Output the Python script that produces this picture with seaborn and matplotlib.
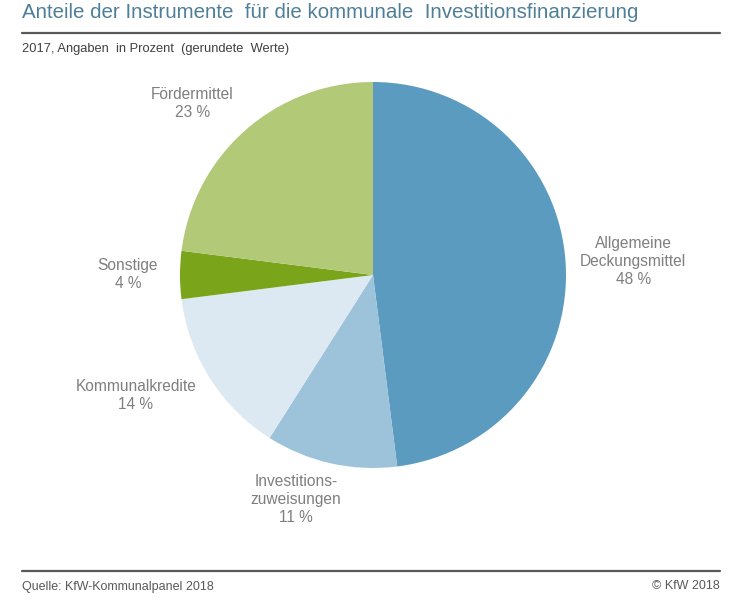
import numpy as np
import seaborn as sns
import matplotlib.pyplot as plt

# Daten
kategorien = ['Allgemeine\nDeckungsmittel', 'Investitions-\nzuweisungen', 'Kommunalkredite', 'Sonstige', 'Fördermittel']
anteile = [48, 11, 14, 4, 23]
farben = ['#5b9bc0', '#9dc3da', '#dde9f2', '#7aa51b', '#b2c977']

# Abstand der Beschriftung (in Radien) und Winkelkorrektur (Grad)
label_dist = [1.35, 1.23, 1.38, 1.27, 1.29]
label_dtheta = [-0.7, -6.3, -5.4, 0.0, 5.1]

sns.set_theme(style="white")
schrift = ['Liberation Sans Narrow', 'Liberation Sans', 'DejaVu Sans']
plt.rcParams['font.family'] = schrift

fig = plt.figure(figsize=(7.54, 6.07), dpi=100)
ax = fig.add_axes([180 / 754, (607 - 468) / 607, 386 / 754, 386 / 607])

wedges, _ = ax.pie(anteile, colors=sns.color_palette(farben), startangle=90,
                   counterclock=False, radius=1,
                   wedgeprops=dict(linewidth=0))
ax.set_xlim(-1, 1)
ax.set_ylim(-1, 1)
ax.axis('off')

for w, name, wert, d, dt in zip(wedges, kategorien, anteile, label_dist, label_dtheta):
    mitte = np.deg2rad((w.theta1 + w.theta2) / 2 + dt)
    ax.text(d * np.cos(mitte), d * np.sin(mitte), f'{name}\n{wert} %',
            ha='center', va='center', fontsize=11.2, color='#7f7f7f',
            linespacing=1.25)

# Titel und Rahmen
fig.text(22 / 754, 1 - 12 / 607, 'Anteile der Instrumente  für die kommunale  Investitionsfinanzierung',
         ha='left', va='center', fontsize=14.8, color='#4f7f98')
fig.add_artist(plt.Line2D([22 / 754, 720 / 754], [1 - 33 / 607] * 2, color='#595959', lw=1.6))
fig.text(22 / 754, 1 - 49 / 607, '2017, Angaben  in Prozent  (gerundete  Werte)',
         ha='left', va='center', fontsize=9.3, color='#404040')

fig.add_artist(plt.Line2D([22 / 754, 720 / 754], [1 - 571 / 607] * 2, color='#595959', lw=1.6))
fig.text(22 / 754, 1 - 587 / 607, 'Quelle: KfW-Kommunalpanel 2018',
         ha='left', va='center', fontsize=9, color='#595959')
fig.text(720 / 754, 1 - 586 / 607, '© KfW 2018',
         ha='right', va='center', fontsize=9, color='#595959')

fig.savefig('out.png', dpi=100, facecolor='white')
